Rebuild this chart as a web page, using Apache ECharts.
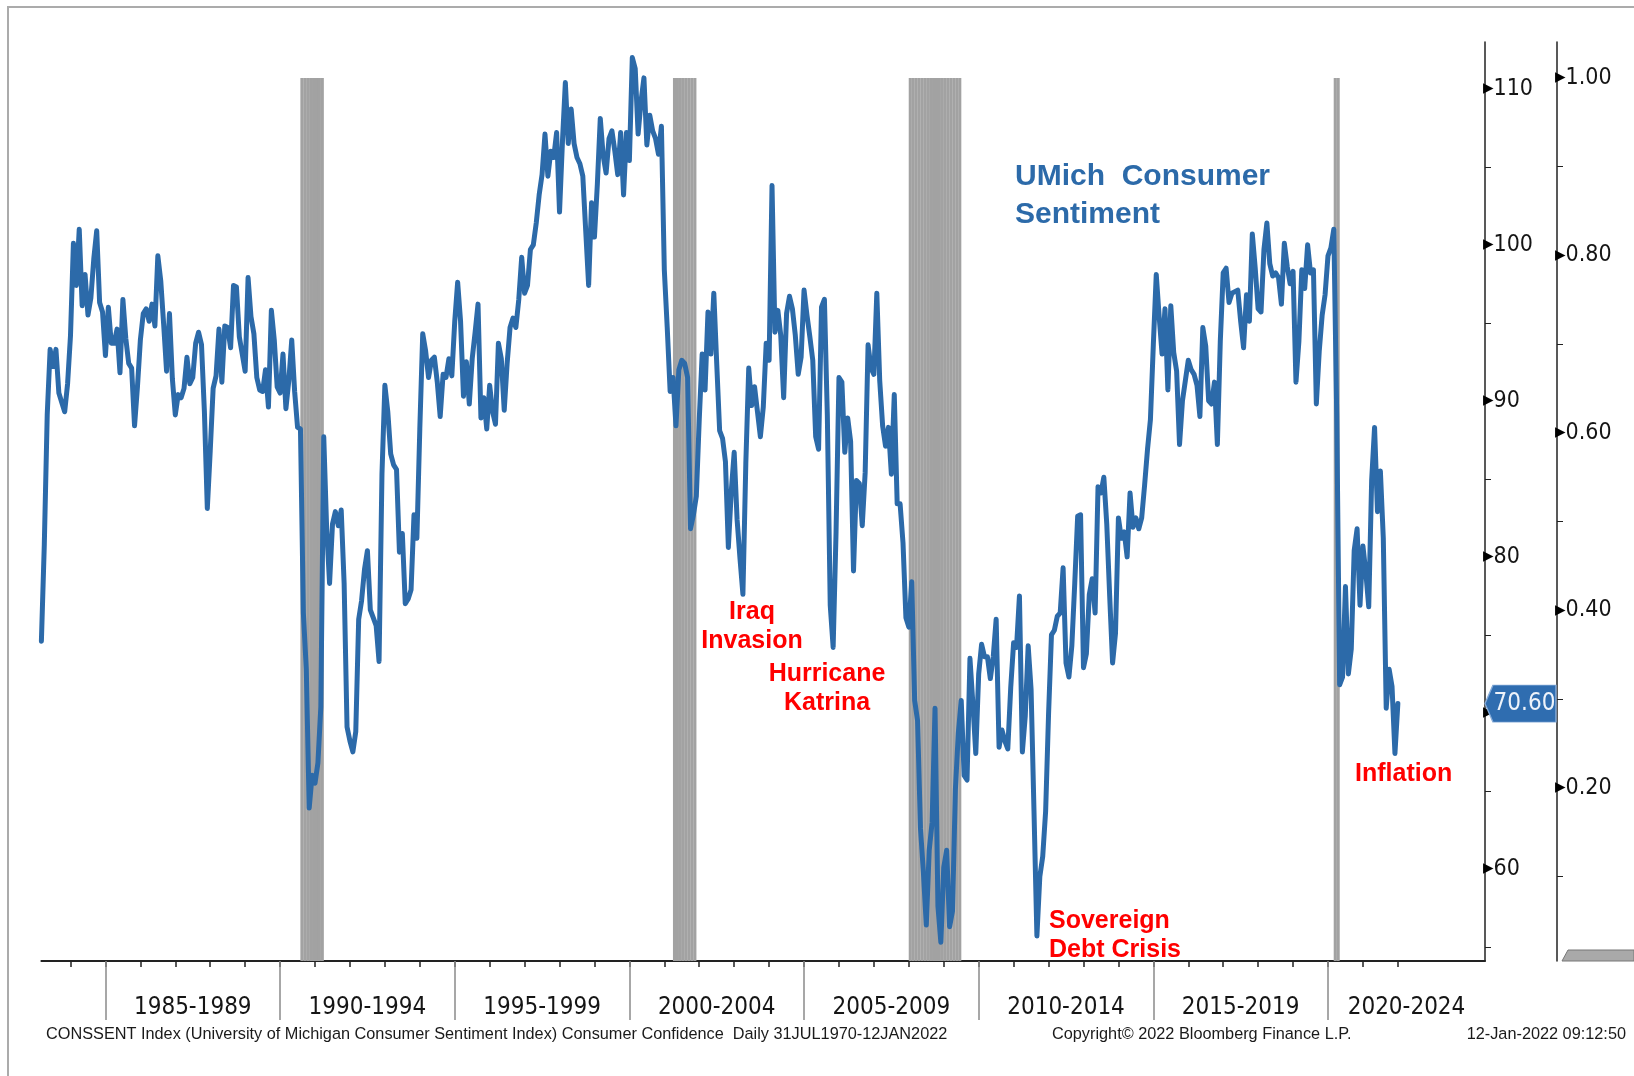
<!DOCTYPE html>
<html>
<head>
<meta charset="utf-8">
<title>UMich Consumer Sentiment</title>
<script src="https://cdn.jsdelivr.net/npm/echarts@6.0.0/dist/echarts.min.js"></script>
<style>
  html, body { margin: 0; padding: 0; background: #fff; }
  #chart { width: 1634px; height: 1076px; }
</style>
</head>
<body>
<div id="chart"></div>
<script>
// monthly readings, first one is Feb 1983
const firstMonth = [1983, 2];
const sent1980s = [
  74.6, 80.8, 89.1, 93.3, 92.2, 93.3, 90.5, 89.9, 89.3, 91.1, 94.2,
  100.1, 97.4, 101.0, 96.1, 98.1, 95.5, 96.6, 99.1, 100.9, 96.3, 95.7, 92.9,
  96.0, 93.7, 93.7, 94.6, 91.8, 96.5, 94.0, 92.4, 92.1, 88.4, 90.9, 93.9,
  95.6, 95.9, 95.1, 96.2, 94.8, 99.3, 97.7, 94.9, 91.9, 95.6, 91.4, 89.1,
  90.4, 90.2, 90.8, 92.8, 91.1, 91.5, 93.7, 94.4, 93.6, 89.3, 83.1, 86.8,
  90.8, 91.6, 94.6, 91.2, 94.8, 94.7, 93.4, 97.4, 97.3, 94.1, 93.0, 91.9,
  97.9, 95.4, 94.3, 91.5, 90.7, 90.6, 92.0, 89.6, 95.8, 93.9, 90.9, 90.5
];
const sent1990s = [
  93.0, 89.5, 91.3, 93.9, 90.6, 88.3, 88.2, 76.4, 72.8, 63.9, 66.0, 65.5,
  66.8, 70.4, 87.7, 81.8, 78.3, 82.1, 82.9, 82.0, 83.0, 78.3, 69.1, 68.2,
  67.5, 68.8, 76.0, 77.2, 79.2, 80.4, 76.6, 76.1, 75.6, 73.3, 85.3, 91.0,
  89.3, 86.6, 85.9, 85.6, 80.3, 81.5, 77.0, 77.3, 77.9, 82.7, 81.2, 88.2,
  94.3, 93.2, 91.5, 92.6, 92.8, 91.2, 89.0, 91.7, 91.5, 92.7, 91.6, 95.1,
  97.6, 95.1, 90.3, 92.5, 89.8, 92.7, 94.4, 96.2, 88.9, 90.2, 88.2, 91.0,
  89.3, 88.5, 93.7, 92.7, 89.4, 92.4, 94.7, 95.3, 94.7, 96.5, 99.2, 96.9,
  97.4, 99.7, 100.0, 101.4, 103.2, 104.5, 107.1, 104.4, 106.0, 105.6, 107.2, 102.1,
  106.6, 110.4, 106.5, 108.7, 106.5, 105.6, 105.2, 104.4, 100.9, 97.4, 102.7, 100.5,
  103.9, 108.1, 105.7, 104.6, 106.8, 107.3, 106.0, 104.5, 107.2, 103.2, 107.2, 105.4
];
const sent2000s = [
  112.0, 111.3, 107.1, 109.2, 110.7, 106.4, 108.3, 107.3, 106.8, 105.8, 107.6, 98.4,
  94.7, 90.6, 91.5, 88.4, 92.0, 92.6, 92.4, 91.5, 81.8, 82.7, 83.9, 88.8,
  93.0, 90.7, 95.7, 93.0, 96.9, 92.4, 88.1, 87.6, 86.1, 80.6, 84.2, 86.7,
  82.4, 79.9, 77.6, 86.0, 92.1, 89.7, 90.9, 89.3, 87.7, 89.6, 93.7, 92.6,
  103.8, 94.4, 95.8, 94.2, 90.2, 95.6, 96.7, 95.9, 94.2, 91.7, 92.8, 97.1,
  95.5, 94.1, 92.6, 87.7, 86.9, 96.0, 96.5, 89.1, 76.9, 74.2, 81.6, 91.5,
  91.2, 86.7, 88.9, 87.4, 79.1, 84.9, 84.7, 82.0, 85.4, 93.6, 92.1, 91.7,
  96.9, 91.3, 88.4, 87.1, 88.3, 85.3, 90.4, 83.4, 83.4, 80.9, 76.1, 75.5,
  78.4, 70.8, 69.5, 62.6, 59.8, 56.4, 61.2, 63.0, 70.3, 57.6, 55.3, 60.1,
  61.2, 56.3, 57.3, 65.1, 68.7, 70.8, 66.0, 65.7, 73.5, 70.6, 67.4, 72.5
];
const sent2010s = [
  74.4, 73.6, 73.6, 72.2, 73.6, 76.0, 67.8, 68.9, 68.2, 67.7, 71.6, 74.5,
  74.2, 77.5, 67.5, 69.8, 74.3, 71.5, 63.7, 55.7, 59.5, 60.8, 63.7, 69.9,
  75.0, 75.3, 76.2, 76.4, 79.3, 73.2, 72.3, 74.3, 78.3, 82.6, 82.7, 72.9,
  73.8, 77.6, 78.6, 76.4, 84.5, 84.1, 85.1, 82.1, 77.5, 73.2, 75.1, 82.5,
  81.2, 81.6, 80.0, 84.1, 81.9, 82.5, 81.8, 82.5, 84.6, 86.9, 88.8, 93.6,
  98.1, 95.4, 93.0, 95.9, 90.7, 96.1, 93.1, 91.9, 87.2, 90.0, 91.3, 92.6,
  92.0, 91.7, 91.0, 89.0, 94.7, 93.5, 90.0, 89.8, 91.2, 87.2, 93.8, 98.2,
  98.5, 96.3, 96.9, 97.0, 97.1, 95.1, 93.4, 96.8, 95.1, 100.7, 98.5, 95.9,
  95.7, 99.7, 101.4, 98.8, 98.0, 98.2, 97.9, 96.2, 100.1, 98.6, 97.5, 98.3,
  91.2, 93.8, 98.4, 97.2, 100.0, 98.2, 98.4, 89.8, 93.2, 95.5, 96.8, 99.3
];
const sent2020s = [
  99.8, 101.0, 89.1, 71.8, 72.3, 78.1, 72.5, 74.1, 80.4, 81.8, 76.9, 80.7,
  79.0, 76.8, 84.9, 88.3, 82.9, 85.5, 81.2, 70.3, 72.8, 71.7, 67.4, 70.6
];

// NBER recession months (first, last)
const recessions = [['1990-08', '1991-03'], ['2001-04', '2001-11'], ['2008-01', '2009-06'], ['2020-03', '2020-04']];

const periodStarts = [1985, 1990, 1995, 2000, 2005, 2010, 2015, 2020];
const periodLabels = ['1985-1989', '1990-1994', '1995-1999', '2000-2004', '2005-2009', '2010-2014', '2015-2019', '2020-2024'];
const leftTicks = [60, 70, 80, 90, 100, 110];
const leftMinor = [55, 65, 75, 85, 95, 105];
const rightTicks = [0.2, 0.4, 0.6, 0.8, 1.0];
const rightMinor = [0.1, 0.3, 0.5, 0.7, 0.9];

const narrow = '"Liberation Sans Narrow", "DejaVu Sans Condensed", "Liberation Sans", sans-serif';
const blue = '#2c6aa9';

const sentiment = [].concat(sent1980s, sent1990s, sent2000s, sent2010s, sent2020s);
// month value is plotted at the end of its month
const lineData = sentiment.map(function (v, i) {
  const m = firstMonth[1] - 1 + i;
  return [firstMonth[0] + (m + 1) / 12, v];
});

const barData = [];
recessions.forEach(function (r) {
  let y = +r[0].slice(0, 4), m = +r[0].slice(5);
  const ey = +r[1].slice(0, 4), em = +r[1].slice(5);
  while (y < ey || (y === ey && m <= em)) {
    barData.push([y + (m - 0.5) / 12, 1]);
    m++;
    if (m > 12) { m = 1; y++; }
  }
});

const xMin = lineData[0][0];
const xMax = 2024.495;
const periodMids = periodStarts.map(function (s) { return (s + Math.min(s + 5, xMax)) / 2; });
const yearTicks = [];
for (let y = 1984; y <= 2022; y++) yearTicks.push(y);
const lastVal = sentiment[sentiment.length - 1];

const tickRich = {
  t: { fontFamily: 'DejaVu Sans', fontSize: 21, color: '#000', verticalAlign: 'middle' },
  v: { fontFamily: narrow, fontSize: 23, color: '#151515', verticalAlign: 'middle' }
};

const chart = echarts.init(document.getElementById('chart'));

chart.setOption({
  animation: false,
  backgroundColor: '#fff',
  grid: { left: 41.4, right: 149, top: 42, bottom: 115, outerBoundsMode: 'none' },
  xAxis: [
    {
      type: 'value', min: xMin, max: xMax,
      axisLine: { onZero: false, lineStyle: { color: '#222', width: 2 } },
      axisTick: { customValues: yearTicks, length: 6, lineStyle: { color: '#222', width: 1.5 } },
      axisLabel: {
        customValues: periodMids, margin: 35, color: '#151515',
        fontFamily: narrow, fontSize: 24,
        formatter: function (v) {
          for (let i = 0; i < periodMids.length; i++) {
            if (Math.abs(periodMids[i] - v) < 1e-6) return periodLabels[i];
          }
          return '';
        }
      },
      splitLine: { show: false }
    },
    {
      type: 'value', min: xMin, max: xMax, position: 'bottom',
      axisLine: { show: false, onZero: false },
      axisTick: { customValues: periodStarts, length: 59, lineStyle: { color: '#8a8a8a', width: 1.5 } },
      axisLabel: { show: false, customValues: periodStarts },
      splitLine: { show: false }
    }
  ],
  yAxis: [
    {
      type: 'value', position: 'right', min: 54.1, max: 113,
      axisLine: { show: true, onZero: false, lineStyle: { color: '#222', width: 1.5 } },
      axisTick: { show: true, customValues: leftMinor, length: 6, lineStyle: { color: '#222' } },
      axisLabel: {
        customValues: leftTicks, margin: -2,
        formatter: function (v) { return '{t|▸}{v|' + v + '}'; },
        rich: tickRich
      },
      splitLine: { show: false }
    },
    {
      type: 'value', position: 'right', offset: 72, min: 0.0045, max: 1.0406,
      axisLine: { show: true, onZero: false, lineStyle: { color: '#222', width: 1.5 } },
      axisTick: { show: true, customValues: rightMinor, length: 6, lineStyle: { color: '#222' } },
      axisLabel: {
        customValues: rightTicks, margin: -2,
        formatter: function (v) { return '{t|▸}{v|' + v.toFixed(2) + '}'; },
        rich: tickRich
      },
      splitLine: { show: false }
    }
  ],
  series: [
    {
      name: 'Recession',
      type: 'bar',
      xAxisIndex: 0,
      yAxisIndex: 1,
      barWidth: 3.1,
      itemStyle: { color: '#a2a2a2' },
      z: 1,
      data: barData
    },
    {
      name: 'UMich Consumer Sentiment',
      type: 'line',
      xAxisIndex: 0,
      yAxisIndex: 0,
      showSymbol: false,
      symbol: 'none',
      lineStyle: { color: blue, width: 5, join: 'round', cap: 'round' },
      z: 3,
      data: lineData,
      markPoint: {
        symbol: 'path://M0,18.5 L8,0 L71,0 L71,37 L8,37 Z',
        symbolSize: [71, 37],
        symbolOffset: [35.5, 0],
        symbolKeepAspect: false,
        itemStyle: { color: '#2f6db0', borderColor: '#86abd8', borderWidth: 1 },
        label: {
          show: true, position: 'inside', offset: [4, 0],
          color: '#eef3fa', fontFamily: narrow, fontSize: 24,
          formatter: function (p) { return p.value.toFixed(2); }
        },
        data: [{ coord: [xMax - 0.001, lastVal], value: lastVal }]
      }
    }
  ],
  graphic: [
    { type: 'rect', silent: true, z: -10, shape: { x: 8, y: 7, width: 1700, height: 1200 }, style: { fill: 'none', stroke: '#ababab', lineWidth: 2 } },
    { type: 'polygon', silent: true, shape: { points: [[1562, 961], [1568, 950], [1634, 950], [1634, 961]] }, style: { fill: '#a9a9a9', stroke: '#777', lineWidth: 1 } },
    { type: 'text', silent: true, style: { x: 1015, y: 158, text: 'UMich  Consumer\nSentiment', font: 'bold 30px "Liberation Sans", sans-serif', fill: blue, lineHeight: 38, verticalAlign: 'top' } },
    { type: 'text', silent: true, style: { x: 752, y: 598, text: 'Iraq\nInvasion', font: 'bold 25px "Liberation Sans", sans-serif', fill: '#ff0000', lineHeight: 29, align: 'center', verticalAlign: 'top' } },
    { type: 'text', silent: true, style: { x: 827, y: 660, text: 'Hurricane\nKatrina', font: 'bold 25px "Liberation Sans", sans-serif', fill: '#ff0000', lineHeight: 29, align: 'center', verticalAlign: 'top' } },
    { type: 'text', silent: true, style: { x: 1049, y: 907, text: 'Sovereign\nDebt Crisis', font: 'bold 25px "Liberation Sans", sans-serif', fill: '#ff0000', lineHeight: 29, align: 'left', verticalAlign: 'top' } },
    { type: 'text', silent: true, style: { x: 1355, y: 760, text: 'Inflation', font: 'bold 25px "Liberation Sans", sans-serif', fill: '#ff0000', lineHeight: 29, align: 'left', verticalAlign: 'top' } },
    { type: 'text', silent: true, style: { x: 46, y: 1035, text: 'CONSSENT Index (University of Michigan Consumer Sentiment Index) Consumer Confidence  Daily 31JUL1970-12JAN2022', font: '16.3px "Liberation Sans", sans-serif', fill: '#1a1a1a', verticalAlign: 'middle' } },
    { type: 'text', silent: true, style: { x: 1052, y: 1035, text: 'Copyright\u00a9 2022 Bloomberg Finance L.P.', font: '16.3px "Liberation Sans", sans-serif', fill: '#1a1a1a', verticalAlign: 'middle' } },
    { type: 'text', silent: true, style: { x: 1626, y: 1035, text: '12-Jan-2022 09:12:50', font: '16.3px "Liberation Sans", sans-serif', fill: '#1a1a1a', align: 'right', verticalAlign: 'middle' } }
  ]
});

window.addEventListener('resize', function () {
  chart.resize();
});
</script>
</body>
</html>
